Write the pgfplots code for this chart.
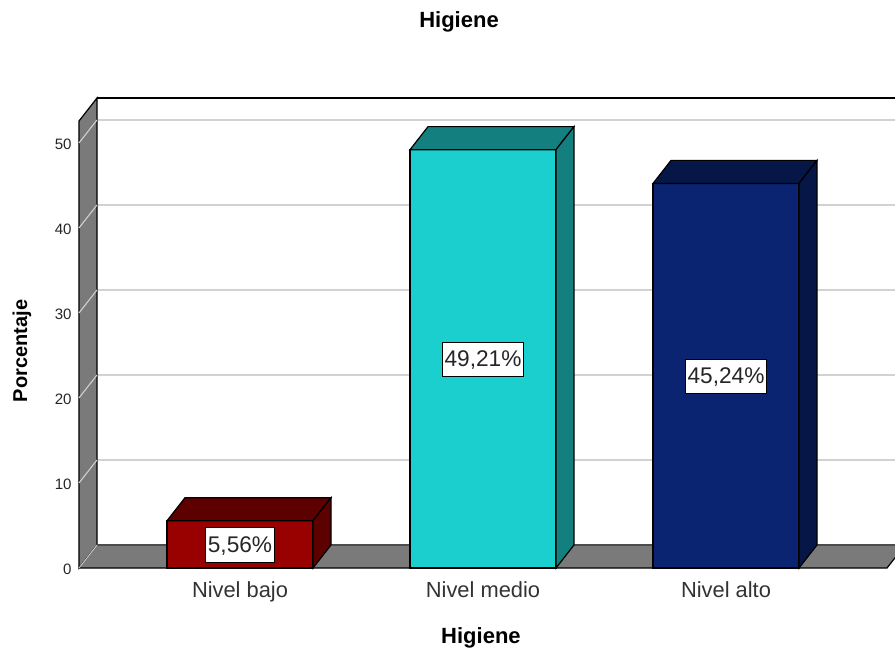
\documentclass[border=0pt]{standalone}
\usepackage{fontspec}
\setmainfont{Liberation Sans}
\usepackage{pgfplots}
\pgfplotsset{compat=1.18}
\definecolor{wallgray}{HTML}{7A7A7A}
\definecolor{gridgray}{HTML}{D2D2D2}
\definecolor{lowfront}{HTML}{990000}
\definecolor{lowside}{HTML}{5C0000}
\definecolor{midfront}{HTML}{1CCFCF}
\definecolor{midside}{HTML}{137F7F}
\definecolor{highfront}{HTML}{0A2472}
\definecolor{highside}{HTML}{051647}
\begin{document}
\begin{tikzpicture}
\useasboundingbox (-59.25pt,-61.5pt) rectangle (612pt,426pt);
\begin{axis}[
  at={(0pt,0pt)}, anchor=south west,
  scale only axis, width=612pt, height=352.5pt,
  xmin=-0.6626, xmax=2.6955, ymin=0, ymax=55.29,
  clip=false,
  axis line style={draw=none},
  tick style={draw=none},
  xtick={0,1,2},
  xticklabels={Nivel bajo,Nivel medio,Nivel alto},
  ytick={0,10,20,30,40,50},
  /pgf/number format/assume math mode=true,
  xticklabel style={font=\fontsize{16.4}{18}\selectfont, text=black!80, yshift=-7pt},
  yticklabel style={font=\fontsize{11.3}{13}\selectfont, text=black!85, xshift=-2pt, yshift=-1.2pt},
  title={\bfseries Higiene},
  every axis title shift=0pt,
  title style={font=\fontsize{16.5}{18}\selectfont, at={(axis description cs:0.4657,1.1617)}, anchor=center},
  xlabel={\bfseries Higiene},
  xlabel style={font=\fontsize{16.5}{18}\selectfont, at={(axis description cs:0.4926,-0.1447)}, anchor=center, yshift=-1.5pt},
  ylabel={\bfseries Porcentaje},
  ylabel style={font=\fontsize{15}{17}\selectfont, at={(axis description cs:-0.0699,0.4617)}, anchor=center},
]
% back wall gridlines
\pgfplotsinvokeforeach{10,20,30,40,50}{
  \addplot[gridgray, line width=1.1pt, forget plot] coordinates {(-0.5885,#1+2.71) (2.6955,#1+2.71)};
}
% side wall and its gridlines
\addplot[fill=wallgray, draw=black, line width=0.9pt, forget plot] coordinates
  {(-0.6626,0) (-0.5885,2.71) (-0.5885,55.29) (-0.6626,52.58)} -- cycle;
\pgfplotsinvokeforeach{10,20,30,40,50}{
  \addplot[gridgray, line width=0.8pt, forget plot] coordinates {(-0.6626,#1) (-0.5885,#1+2.71)};
}
% top edge of the back wall
\addplot[black, line width=0.9pt, forget plot] coordinates {(-0.5885,55.29) (2.6955,55.29)};
% floor
\addplot[fill=wallgray, draw=none, forget plot] coordinates
  {(-0.6626,0) (2.6626,0) (2.6955,1.2) (2.6955,2.71) (-0.5885,2.71)} -- cycle;
\addplot[black, line width=0.9pt, forget plot] coordinates {(-0.6626,0) (2.6626,0) (2.6955,1.2)};
\addplot[black!70, line width=0.9pt, forget plot] coordinates {(-0.5885,2.71) (2.6955,2.71)};
\addplot[gridgray, line width=0.6pt, forget plot] coordinates {(-0.6626,0) (-0.5885,2.71)};

% Nivel bajo
\addplot[ybar, bar width=0.6008, bar shift=0pt, fill=lowfront, draw=black, line width=0.9pt, forget plot] coordinates {(0,5.56)};
\addplot[fill=lowside, draw=black, line width=0.9pt, forget plot] coordinates
  {(-0.3004,5.56) (-0.2263,8.27) (0.3745,8.27) (0.3004,5.56)} -- cycle;
\addplot[fill=lowside, draw=black, line width=0.9pt, forget plot] coordinates
  {(0.3004,0) (0.3745,2.71) (0.3745,8.27) (0.3004,5.56)} -- cycle;
% Nivel medio
\addplot[ybar, bar width=0.6008, bar shift=0pt, fill=midfront, draw=black, line width=0.9pt, forget plot] coordinates {(1,49.21)};
\addplot[fill=midside, draw=black, line width=0.9pt, forget plot] coordinates
  {(0.6996,49.21) (0.7737,51.92) (1.3745,51.92) (1.3004,49.21)} -- cycle;
\addplot[fill=midside, draw=black, line width=0.9pt, forget plot] coordinates
  {(1.3004,0) (1.3745,2.71) (1.3745,51.92) (1.3004,49.21)} -- cycle;
% Nivel alto
\addplot[ybar, bar width=0.6008, bar shift=0pt, fill=highfront, draw=black, line width=0.9pt, forget plot] coordinates {(2,45.24)};
\addplot[fill=highside, draw=black, line width=0.9pt, forget plot] coordinates
  {(1.6996,45.24) (1.7737,47.95) (2.3745,47.95) (2.3004,45.24)} -- cycle;
\addplot[fill=highside, draw=black, line width=0.9pt, forget plot] coordinates
  {(2.3004,0) (2.3745,2.71) (2.3745,47.95) (2.3004,45.24)} -- cycle;

% value labels, centred on each bar's front face
\addplot[draw=none, mark=none, forget plot, point meta=explicit symbolic,
  nodes near coords,
  nodes near coords align={center},
  every node near coord/.style={anchor=center, fill=white, draw=black, line width=0.7pt,
    font=\fontsize{17}{18}\selectfont, text=black!85, inner xsep=1.5pt, inner ysep=0pt,
    text height=14.5pt, text depth=3.5pt, minimum height=26pt, yshift=-0.5pt}]
  coordinates {(0,2.78)[5,56\%] (1,24.605)[49,21\%] (2,22.62)[45,24\%]};
\end{axis}
\end{tikzpicture}
\end{document}
